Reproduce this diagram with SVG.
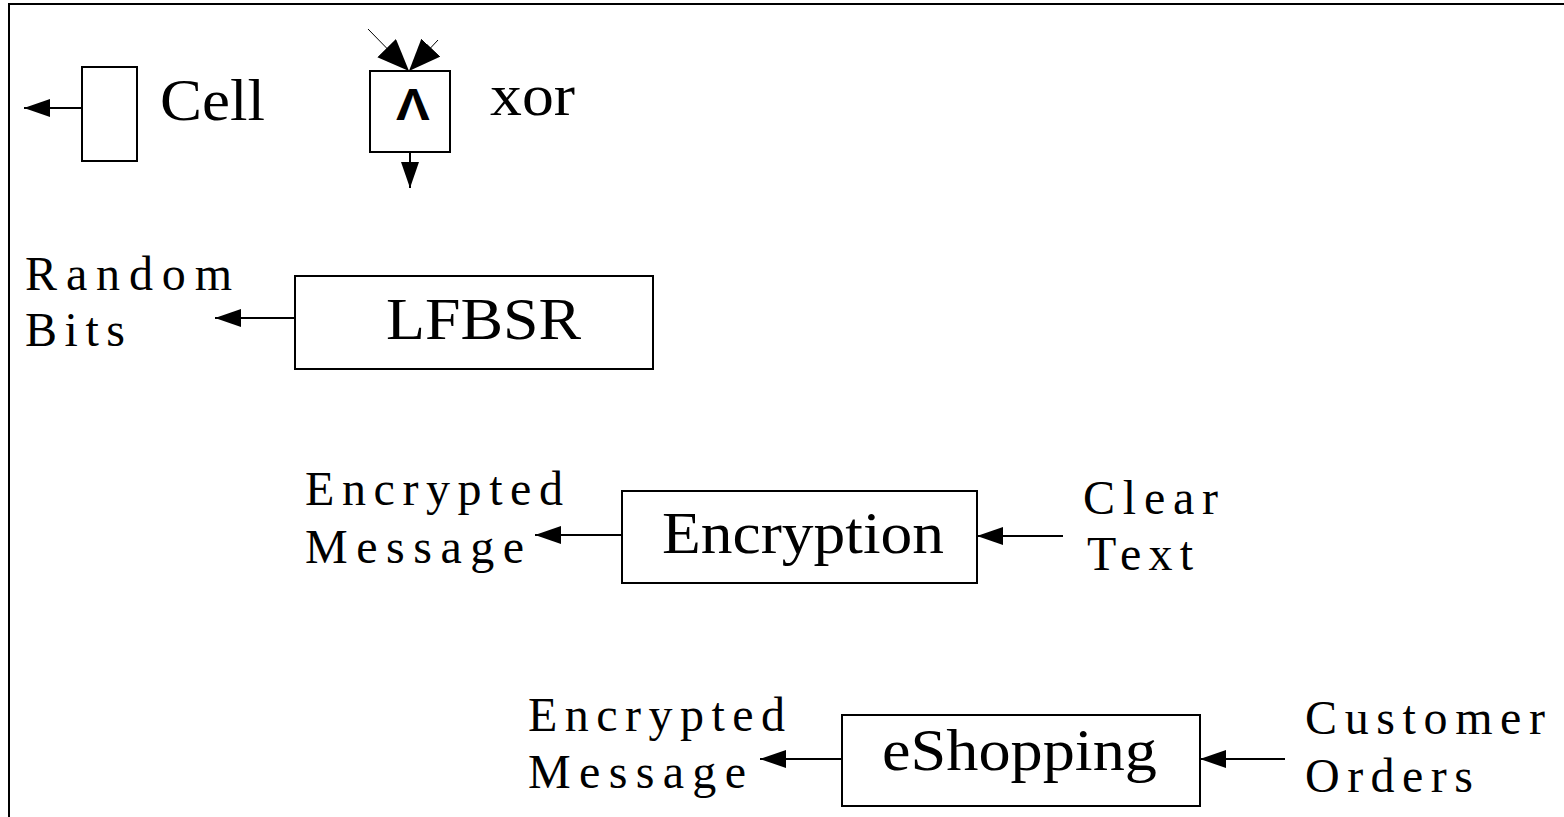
<svg xmlns="http://www.w3.org/2000/svg" width="1564" height="817" viewBox="0 0 1564 817">
<defs>
<marker id="ah" markerUnits="userSpaceOnUse" markerWidth="28" markerHeight="20" refX="26" refY="9" orient="auto">
<path d="M0,0 L26,9 L0,18 Z" fill="#000"/>
</marker>
<marker id="ahb" markerUnits="userSpaceOnUse" markerWidth="34" markerHeight="28" refX="32" refY="13" orient="auto">
<path d="M0,0 L32,13 L0,26 Z" fill="#000"/>
</marker>
<style>
.box{fill:#fff;stroke:#000;stroke-width:2}
.big{font-family:"Liberation Serif",serif;font-size:60px;fill:#000}
.lbl{font-family:"Liberation Serif",serif;font-size:48px;fill:#000}
.wire{stroke:#000;stroke-width:2;fill:none}
.thin{stroke:#000;stroke-width:1;fill:none}
</style>
</defs>
<rect width="1564" height="817" fill="#fff"/>
<path d="M9,817 L9,4 L1564,4" fill="none" stroke="#000" stroke-width="2"/>

<g id="connectors">
<line class="wire" x1="82" y1="108" x2="24" y2="108" marker-end="url(#ah)"/>
<line class="thin" x1="368" y1="29" x2="409" y2="71" marker-end="url(#ahb)"/>
<line class="thin" x1="438" y1="40" x2="409" y2="71" marker-end="url(#ahb)"/>
<line class="wire" x1="410" y1="152" x2="410" y2="188" marker-end="url(#ah)"/>
<line class="wire" x1="295" y1="318" x2="215" y2="318" marker-end="url(#ah)"/>
<line class="wire" x1="622" y1="535" x2="535" y2="535" marker-end="url(#ah)"/>
<line class="wire" x1="1063" y1="536" x2="977" y2="536" marker-end="url(#ah)"/>
<line class="wire" x1="842" y1="759" x2="760" y2="759" marker-end="url(#ah)"/>
<line class="wire" x1="1285" y1="759" x2="1200" y2="759" marker-end="url(#ah)"/>
</g>

<g id="cell">
<rect class="box" x="82" y="67" width="55" height="94"/>
<text class="big" x="160" y="120" textLength="105" lengthAdjust="spacingAndGlyphs">Cell</text>
</g>

<g id="xor">
<rect class="box" x="370" y="71" width="80" height="81"/>
<text x="413" y="120" text-anchor="middle" font-family="Liberation Sans, sans-serif" font-weight="bold" font-size="44" transform="translate(413,0) scale(1.15,1) translate(-413,0)">Λ</text>
<text class="big" x="490" y="115" textLength="85" lengthAdjust="spacingAndGlyphs">xor</text>
</g>

<g id="random-bits">
<text class="lbl" x="25" y="290" textLength="207" lengthAdjust="spacing">Random</text>
<text class="lbl" x="25" y="346" textLength="100" lengthAdjust="spacing">Bits</text>
</g>

<g id="lfbsr">
<rect class="box" x="295" y="276" width="358" height="93"/>
<text class="big" x="386" y="339" textLength="195" lengthAdjust="spacingAndGlyphs">LFBSR</text>
</g>

<g id="enc-out">
<text class="lbl" x="305" y="505" textLength="258" lengthAdjust="spacing">Encrypted</text>
<text class="lbl" x="305" y="563" textLength="219" lengthAdjust="spacing">Message</text>
</g>

<g id="encryption">
<rect class="box" x="622" y="491" width="355" height="92"/>
<text class="big" x="662" y="553" textLength="282" lengthAdjust="spacingAndGlyphs">Encryption</text>
</g>

<g id="clear-text">
<text class="lbl" x="1083" y="514" textLength="135" lengthAdjust="spacing">Clear</text>
<text class="lbl" x="1087" y="570" textLength="106" lengthAdjust="spacing">Text</text>
</g>

<g id="shop-out">
<text class="lbl" x="528" y="731" textLength="257" lengthAdjust="spacing">Encrypted</text>
<text class="lbl" x="528" y="788" textLength="218" lengthAdjust="spacing">Message</text>
</g>

<g id="eshopping">
<rect class="box" x="842" y="715" width="358" height="91"/>
<text class="big" x="882" y="770" textLength="275" lengthAdjust="spacingAndGlyphs">eShopping</text>
</g>

<g id="customer-orders">
<text class="lbl" x="1305" y="734" textLength="240" lengthAdjust="spacing">Customer</text>
<text class="lbl" x="1305" y="792" textLength="168" lengthAdjust="spacing">Orders</text>
</g>
</svg>
